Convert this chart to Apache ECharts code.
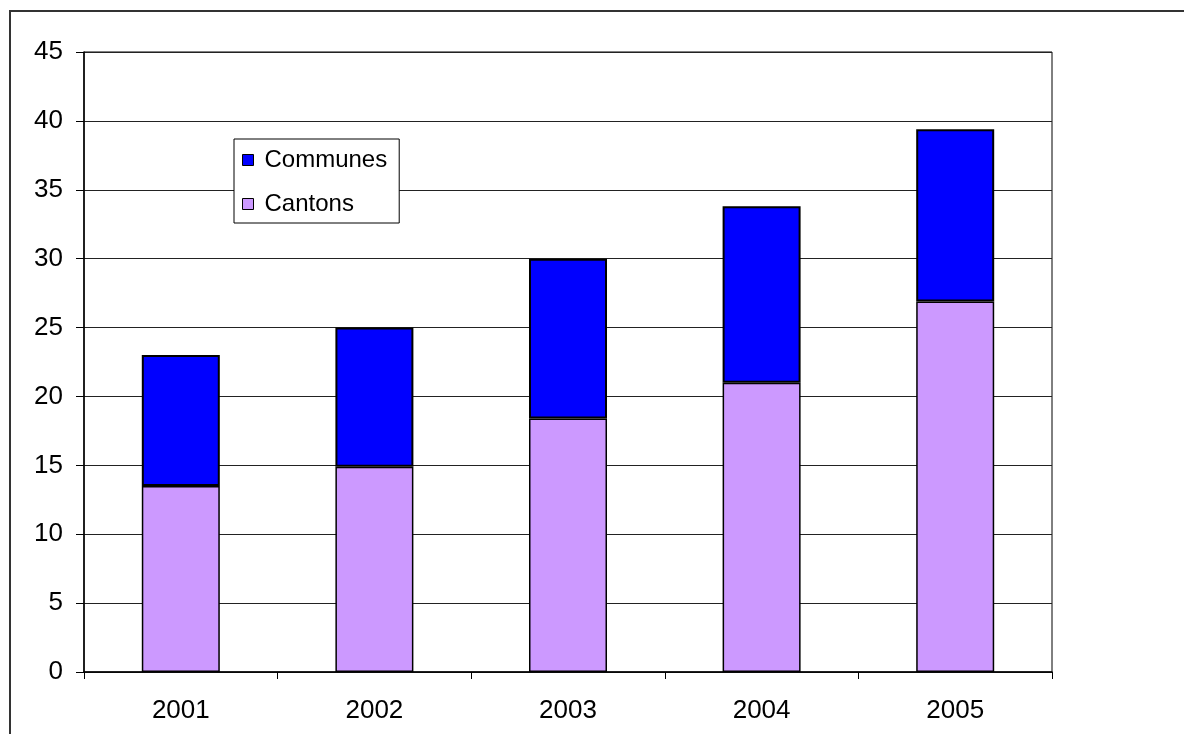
<!DOCTYPE html>
<html>
<head>
<meta charset="utf-8">
<script src="https://cdn.jsdelivr.net/npm/echarts@6/dist/echarts.min.js"></script>
<style>
html,body{margin:0;padding:0;background:#fff;}
#c{width:1184px;height:734px;}
</style>
</head>
<body>
<div id="c"></div>
<script>
var years = ['2001', '2002', '2003', '2004', '2005'];
var cantons = [13.5, 14.9, 18.4, 21.0, 26.9];
var communes = [9.5, 10.1, 11.6, 12.8, 12.5];
var legendNames = ['Communes', 'Cantons'];

var chart = echarts.init(document.getElementById('c'));
var font = 'Liberation Sans, Arial, sans-serif';
chart.setOption({
  backgroundColor: '#fff',
  animation: false,
  textStyle: { fontFamily: font },
  graphic: [{
    type: 'rect',
    shape: { x: 10, y: 11, width: 1300, height: 900 },
    style: { fill: 'none', stroke: '#333', lineWidth: 2 },
    silent: true
  }],
  grid: {
    left: 84, right: 132, top: 52, bottom: 62,
    show: true, borderColor: '#000', borderWidth: 1, backgroundColor: 'transparent'
  },
  legend: {
    data: legendNames,
    orient: 'vertical',
    left: 234, top: 139,
    padding: [8, 12, 6, 8],
    itemGap: 18,
    itemWidth: 11, itemHeight: 11,
    borderColor: '#000', borderWidth: 1,
    backgroundColor: '#fff',
    icon: 'rect',
    itemStyle: { borderColor: '#000', borderWidth: 1 },
    textStyle: { fontSize: 24, color: '#000', fontFamily: font, lineHeight: 26, padding: [0, 0, 0, 6] }
  },
  xAxis: {
    type: 'category',
    data: years,
    axisLine: { lineStyle: { color: '#000', width: 1.5 } },
    axisTick: { show: true, length: 7, lineStyle: { color: '#000' } },
    axisLabel: { fontSize: 26, color: '#000', margin: 26, fontFamily: font }
  },
  yAxis: {
    type: 'value',
    min: 0, max: 45, interval: 5,
    axisLine: { show: true, lineStyle: { color: '#000', width: 1.5 } },
    axisTick: { show: true, length: 8, lineStyle: { color: '#000' } },
    axisLabel: { fontSize: 26, color: '#000', margin: 21, fontFamily: font },
    splitLine: { show: true, lineStyle: { color: '#222', width: 1 } }
  },
  series: [
    {
      name: 'Cantons', type: 'bar', stack: 'total', data: cantons,
      barWidth: 78,
      itemStyle: { color: '#CC99FF', borderColor: '#000', borderWidth: 1.5 }
    },
    {
      name: 'Communes', type: 'bar', stack: 'total', data: communes,
      barWidth: 78,
      itemStyle: { color: '#0000FF', borderColor: '#000', borderWidth: 2 }
    }
  ]
});
</script>
</body>
</html>
